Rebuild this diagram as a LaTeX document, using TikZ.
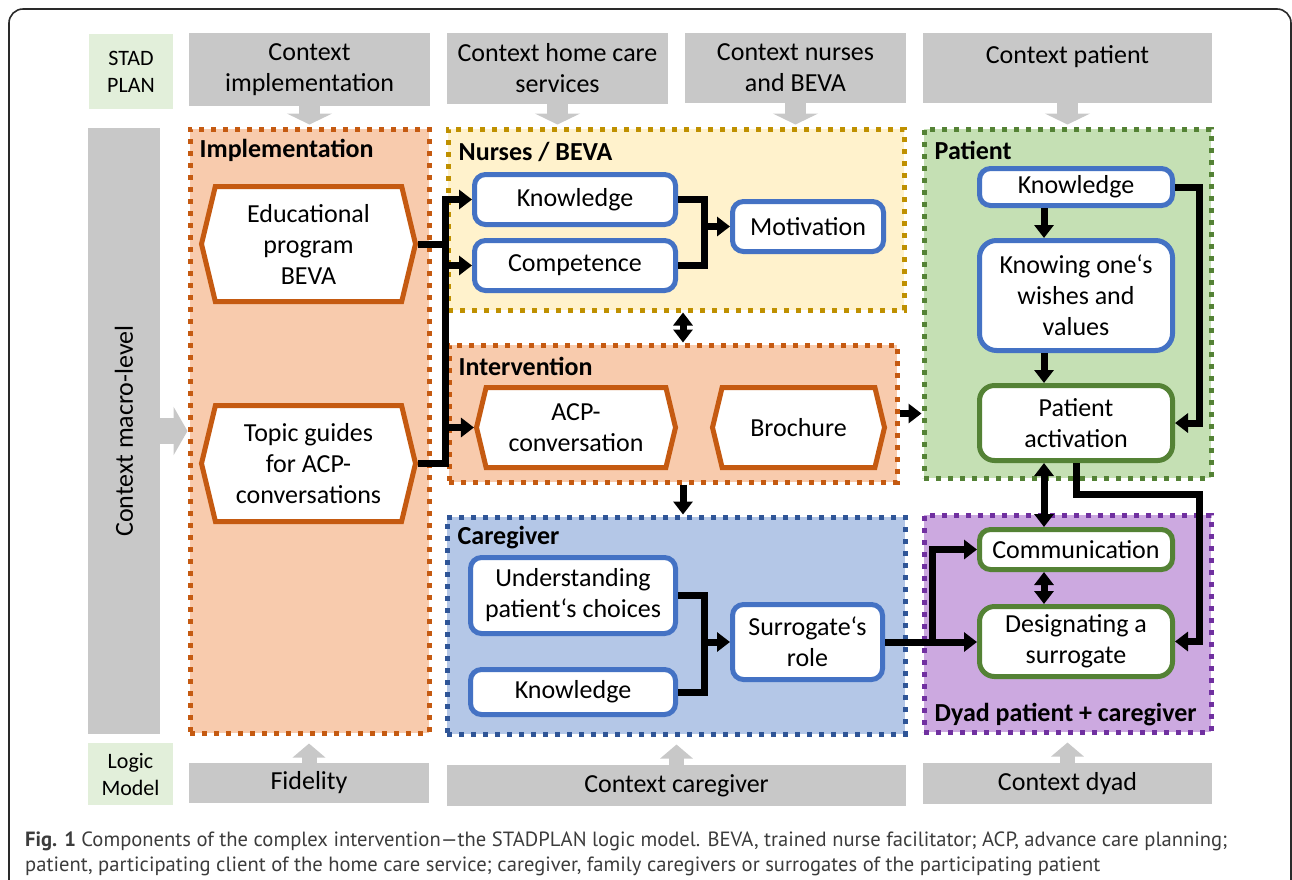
\documentclass[tikz,border=0pt]{standalone}
\usepackage{fontspec}
\setmainfont{Carlito}
\newfontfamily\capfont{PT Sans}
\usetikzlibrary{shapes.symbols, arrows.meta, positioning, calc}

\definecolor{ctxGray}{HTML}{C8C8C8}
\definecolor{tagGreen}{HTML}{E2EFDA}
\definecolor{orangeFill}{HTML}{F8CBAD}
\definecolor{orangeLine}{HTML}{C55A11}
\definecolor{nurseFill}{HTML}{FFF2CC}
\definecolor{nurseLine}{HTML}{BF9000}
\definecolor{careFill}{HTML}{B4C7E7}
\definecolor{careLine}{HTML}{2F5597}
\definecolor{patFill}{HTML}{C5E0B4}
\definecolor{patLine}{HTML}{548235}
\definecolor{dyadFill}{HTML}{CCA9E0}
\definecolor{dyadLine}{HTML}{7030A0}
\definecolor{boxBlue}{HTML}{4472C4}
\definecolor{boxGreen}{HTML}{548235}
\definecolor{capGray}{HTML}{3C3C3C}
\definecolor{frameC}{HTML}{2A2A2A}

\newcommand{\mainfnt}{\fontsize{26}{31}\selectfont}

\begin{document}
\begin{tikzpicture}[x=1pt, y=-1pt,
    ctx/.style={rectangle, fill=ctxGray, inner sep=0pt, align=center, font=\mainfnt},
    tag/.style={rectangle, fill=tagGreen, inner sep=0pt, align=center, font=\fontsize{22}{27}\selectfont},
    region/.style={rectangle, line width=5pt, dash pattern=on 5pt off 7pt, inner sep=0pt},
    title/.style={anchor=west, inner sep=0pt, font=\mainfnt\bfseries},
    box/.style={rectangle, rounded corners=11pt, fill=white, line width=5pt, inner sep=0pt, align=center, font=\mainfnt},
    hexa/.style={signal, signal to=east and west, signal pointer angle=153, draw=orangeLine, fill=white, line width=5pt, inner sep=0pt, align=center, font=\mainfnt},
    conn/.style={line width=7pt},
    arr/.style={conn, -{Triangle[length=13pt, width=19pt]}},
    darr/.style={conn, {Triangle[length=13pt, width=19pt]}-{Triangle[length=13pt, width=19pt]}},
    blk/.style={draw=ctxGray, line width=21pt, -{Triangle[length=11pt, width=45pt]}},
    blkup/.style={draw=ctxGray, line width=15pt, -{Triangle[length=14pt, width=32pt]}},
    capt/.style={inner sep=0pt, align=left, text=capGray, font=\capfont\fontsize{20.6}{25}\selectfont}
]
\useasboundingbox (0,0) rectangle (1292,879);
\clip (0,0) rectangle (1292,879);

% Frame
\draw[frameC, line width=1.6pt, rounded corners=14pt] (9,9) rectangle (1291,930);

% Regions
\node[region, draw=orangeLine, fill=orangeFill, minimum width=239pt, minimum height=604pt] (impl) at (309.5,431) {};
\node[region, draw=nurseLine, fill=nurseFill, minimum width=456pt, minimum height=181pt] (nurses) at (676,219.5) {};
\node[region, draw=orangeLine, fill=orangeFill, minimum width=448pt, minimum height=137pt] (inter) at (673,413.5) {};
\node[region, draw=careLine, fill=careFill, minimum width=458pt, minimum height=217pt] (care) at (676,625.5) {};
\node[region, draw=patLine, fill=patFill, minimum width=287pt, minimum height=349pt] (patient) at (1067.5,303.5) {};
\node[region, draw=dyadLine, fill=dyadFill, minimum width=287pt, minimum height=217pt] (dyad) at (1067.5,623.5) {};

\node[title] (tImpl) at ([shift={(12,24)}]impl.north west) {Implementation};
\node[title] (tNurses) at ([shift={(13,25)}]nurses.north west) {Nurses / BEVA};
\node[title] (tInter) at ([shift={(12,24)}]inter.north west) {Intervention};
\node[title] (tCare) at ([shift={(13,23)}]care.north west) {Caregiver};
\node[title] (tPatient) at ([shift={(13,24)}]patient.north west) {Patient};
\node[title] (tDyad) at ([shift={(13,-20)}]dyad.south west) {Dyad patient + caregiver};

% Context boxes
\node[tag, minimum width=84pt, minimum height=75pt] (stad) at (131,71.5) {STAD\\PLAN};
\node[ctx, minimum width=241pt, minimum height=73pt] (cImpl) at (309.5,69.5) {Context\\implementation};
\node[ctx, minimum width=221pt, minimum height=71pt] (cHome) at (557.5,68.5) {Context home care\\services};
\node[ctx, minimum width=221pt, minimum height=70pt] (cNurse) at (795.5,68) {Context nurses\\and BEVA};
\node[ctx, minimum width=289pt, minimum height=70pt, text height=19pt, text depth=29pt] (cPat) at (1067.5,68) {Context patient};
\node[ctx, minimum width=72pt, minimum height=606pt] (macro) at (124,431) {};
\node[rotate=90, inner sep=0pt, font=\mainfnt] (macroTxt) at (macro.center) {Context macro-level};
\node[tag, minimum width=85pt, minimum height=62pt] (logic) at (130.5,774) {Logic\\Model};
\node[ctx, minimum width=240pt, minimum height=40pt] (fid) at (309,783) {Fidelity};
\node[ctx, minimum width=459pt, minimum height=41pt] (cCare) at (676.5,785.5) {Context caregiver};
\node[ctx, minimum width=289pt, minimum height=41pt] (cDyad) at (1067.5,783.5) {Context dyad};

% Context arrows
\draw[blk, shorten >=2pt] (cImpl.south) -- (cImpl.south |- impl.north);
\draw[blk, shorten >=2pt] (cHome.south) -- (cHome.south |- nurses.north);
\draw[blk, shorten >=2pt] (cNurse.south) -- (cNurse.south |- nurses.north);
\draw[blk, shorten >=2pt] (cPat.south) -- (cPat.south |- patient.north);
\draw[blkup, shorten >=8pt] (fid.north) -- (fid.north |- impl.south);
\draw[blkup, shorten >=8pt] (cCare.north) -- (cCare.north |- care.south);
\draw[blkup, shorten >=8pt] (cDyad.north) -- (cDyad.north |- dyad.south);
\draw[blk, line width=26pt, -{Triangle[length=14pt, width=48pt]}] (macro.east) -- (macro.east -| impl.west);

% Implementation
\node[hexa, minimum width=214pt, minimum height=115pt] (edu) at (308.5,244) {Educational\\program\\BEVA};
\node[hexa, minimum width=214pt, minimum height=116pt] (topic) at (308.5,463.5) {Topic guides\\for ACP-\\conversations};

% Nurses / BEVA
\node[box, draw=boxBlue, minimum width=201pt, minimum height=50pt] (nKnow) at (575,199.5) {Knowledge};
\node[box, draw=boxBlue, minimum width=201pt, minimum height=50pt] (nComp) at (575,265.5) {Competence};
\node[box, draw=boxBlue, minimum width=151pt, minimum height=50pt] (nMot) at (808,226.5) {Motivation};

% Intervention
\node[hexa, minimum width=199pt, minimum height=80pt] (acp) at (576,427.5) {ACP-\\conversation};
\node[hexa, minimum width=172pt, minimum height=80pt] (bro) at (798.5,427.5) {Brochure};

% Caregiver
\node[box, draw=boxBlue, minimum width=205pt, minimum height=76pt] (cUnd) at (573,595.5) {Understanding\\patient‘s choices};
\node[box, draw=boxBlue, minimum width=205pt, minimum height=45pt] (cKnow) at (573,692) {Knowledge};
\node[box, draw=boxBlue, minimum width=150pt, minimum height=75pt] (cRole) at (807.5,642) {Surrogate‘s\\role};

% Patient
\node[box, draw=boxBlue, minimum width=193pt, minimum height=37pt] (pKnow) at (1076,187) {Knowledge};
\node[box, draw=boxBlue, rounded corners=17pt, minimum width=193pt, minimum height=110pt] (pWish) at (1076,295.5) {Knowing one‘s\\wishes and\\values};
\node[box, draw=boxGreen, rounded corners=15pt, minimum width=193pt, minimum height=75pt] (pAct) at (1076,423) {Patient\\activation};

% Dyad
\node[box, draw=boxGreen, minimum width=193pt, minimum height=40pt] (dComm) at (1076,549.5) {Communication};
\node[box, draw=boxGreen, rounded corners=15pt, minimum width=193pt, minimum height=70pt] (dDesig) at (1076,641.5) {Designating a\\surrogate};

% Connectors
\coordinate (bus) at (445,244);
\coordinate (brN) at (704,0);
\coordinate (midX) at (683,0);
\coordinate (pX) at (1044,0);
\coordinate (rX) at (1199,494);
\coordinate (jX) at (932,0);

\draw[conn] (edu.east) -- (bus);
\draw[arr] (topic.east) -- (topic.east -| bus) -- (nKnow.west -| bus) -- (nKnow.west);
\draw[arr] (nComp.west -| bus) -- (nComp.west);
\draw[arr] (acp.west -| bus) -- (acp.west);

\draw[conn] (nKnow.east) -- (nKnow.east -| brN) -- (nComp.east -| brN) -- (nComp.east);
\draw[arr] (nMot.west -| brN) -- (nMot.west);
\draw[conn] (cUnd.east) -- (cUnd.east -| brN) -- (cKnow.east -| brN) -- (cKnow.east);
\draw[arr] (cRole.west -| brN) -- (cRole.west);

\draw[darr] (nurses.south -| midX) -- (inter.north -| midX);
\draw[arr] (inter.south -| midX) -- (care.north -| midX);
\draw[arr] (inter.east) -- (inter.east -| patient.west);

\draw[arr] (pKnow.south -| pX) -- (pWish.north -| pX);
\draw[arr] (pWish.south -| pX) -- (pAct.north -| pX);
\draw[darr] (pAct.south -| pX) -- (dComm.north -| pX);
\draw[darr] (dComm.south -| pX) -- (dDesig.north -| pX);
\draw[arr] (pKnow.east) -- (pKnow.east -| rX) -- (pAct.east -| rX) -- (pAct.east);
\draw[arr] (pAct.south) -- (pAct.south |- rX) -- (rX) -- (rX |- dDesig.east) -- (dDesig.east);
\draw[arr] (cRole.east) -- (cRole.east -| dDesig.west);
\draw[arr] (cRole.east -| jX) -- (dComm.west -| jX) -- (dComm.west);

% Caption
\node[capt, anchor=north west] (caption) at (25,832) {\textbf{Fig. 1} Components of the complex intervention—the STADPLAN logic model. BEVA, trained nurse facilitator; ACP, advance care planning;\\patient, participating client of the home care service; caregiver, family caregivers or surrogates of the participating patient};

\end{tikzpicture}
\end{document}
